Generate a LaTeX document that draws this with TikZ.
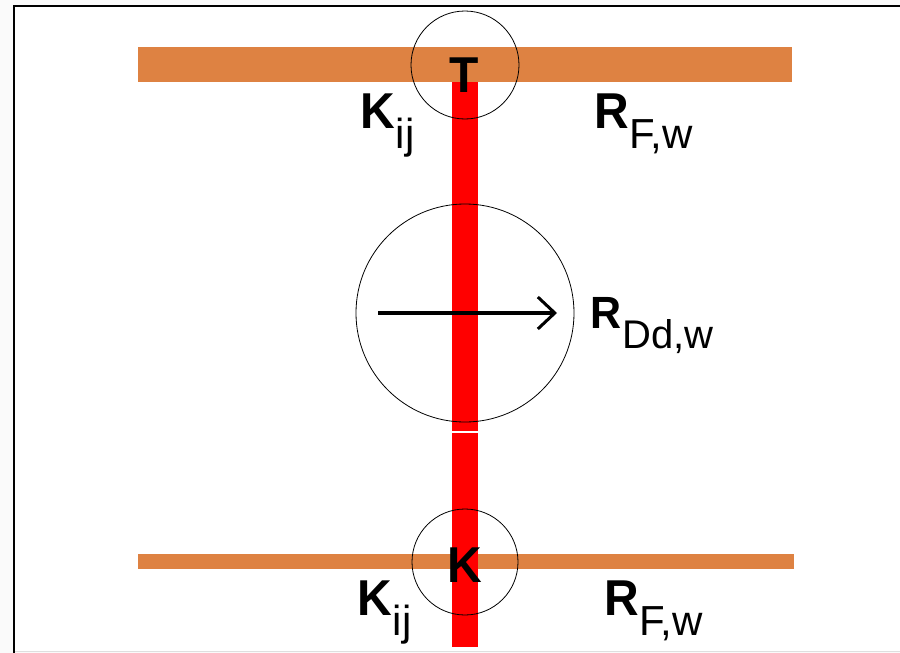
\documentclass[tikz,border=0pt]{standalone}
\usepackage{fontspec}
\setmainfont{Liberation Sans}
\usepackage{tikz}
\usetikzlibrary{arrows.meta}

\definecolor{barorange}{RGB}{222,130,66}
\definecolor{pinred}{RGB}{255,0,0}
\definecolor{pagegray}{RGB}{250,250,250}

% big bold letter with a plain subscript
\newcommand{\biglbl}[4]{\scalebox{1}[1.05]{\fontsize{#3}{#3}\selectfont\bfseries #1}\kern1pt%
  \raisebox{-20pt}{\fontsize{#4}{#4}\selectfont #2}}

\tikzset{
  lbl/.style={inner sep=0pt, anchor=base west},
  ring/.style={draw=black, line width=0.8pt},
}

\begin{document}
\begin{tikzpicture}[x=1pt, y=-1pt, >={Straight Barb[length=17pt,width=32pt,line width=3pt]}]
            \useasboundingbox (0,0) rectangle (900,653);
            % Page and frame
            \fill[pagegray] (0,0) rectangle (900,653);
            \fill[white] (14,6) rectangle (900,651);
            \draw[gray!25, line width=1pt] (14,651.5) -- (900,651.5);
            \draw[black, line width=2.6pt] (14,653) -- (14,6) -- (900,6);

            % Plates
            \fill[barorange] (138,47) rectangle (792,82);
            \fill[barorange] (138,554) rectangle (794,569);

            % Pin (with the thin gap)
            \fill[pinred] (452,82) rectangle (478,431);
            \fill[pinred] (452,432.5) rectangle (478,647);

            % Centres of the rings
            \coordinate (T) at (465,65);
            \coordinate (M) at (465,313);
            \coordinate (K) at (465,562);

            % Rings
            \draw[ring] (T) circle (54);
            \draw[ring] (M) circle (109);
            \draw[ring] (K) circle (53);

            % Arrow in the middle ring
            \coordinate (arrS) at (378,313);
            \coordinate (arrE) at (557,313);
            \draw[->, line width=3.2pt] (arrS) -- (arrE);

            % Letters at the joints
            \node[inner sep=0pt, anchor=base] (Tlbl) at (464,92) {\scalebox{1}[1.05]{\fontsize{48}{48}\selectfont\bfseries T}};
            \node[inner sep=0pt, anchor=base] (Klbl) at (465,582) {\scalebox{1}[1.05]{\fontsize{48}{48}\selectfont\bfseries K}};

            % Labels
            \node[lbl] (Ktop) at (360,128) {\biglbl{K}{ij}{48}{42}};
            \node[lbl] (Rtop) at (594,128) {\biglbl{R}{F,w}{48}{42}};
            \node[lbl] (Rmid) at (590,328) {\biglbl{R}{Dd,w}{43}{40}};
            \node[lbl] (Kbot) at (357,615) {\biglbl{K}{ij}{48}{42}};
            \node[lbl] (Rbot) at (604,615) {\biglbl{R}{F,w}{48}{42}};
        \end{tikzpicture}
\end{document}
